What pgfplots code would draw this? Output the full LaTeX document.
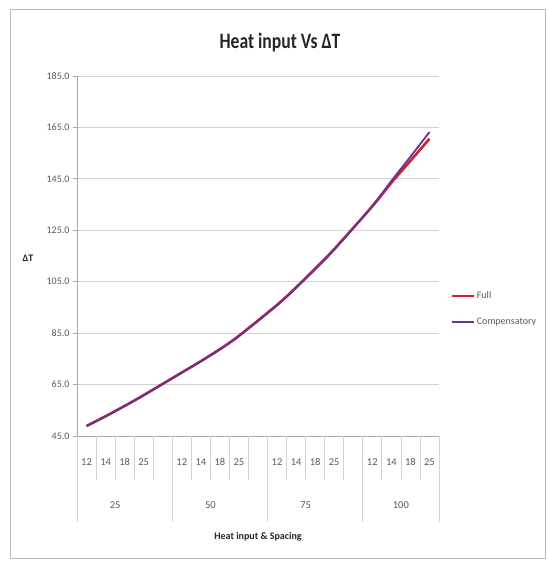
\documentclass[border=0pt]{standalone}
\usepackage{fontspec}
\setmainfont{Carlito}
\newfontfamily\titlefont[FakeStretch=0.8]{Carlito}
\usepackage{pgfplots}
\pgfplotsset{compat=1.18}
\definecolor{fullc}{RGB}{205,32,55}
\definecolor{compc}{RGB}{105,50,145}
\definecolor{gridc}{RGB}{210,210,210}
\definecolor{txtc}{RGB}{89,89,89}
\definecolor{framec}{RGB}{185,185,185}
\begin{document}
\begin{tikzpicture}[x=1pt,y=1pt]
\path (0,0) rectangle (547,561);
\draw[framec, line width=1pt] (10.5,2) rectangle (545,551);
\node[font=\titlefont\bfseries\fontsize{22}{24}\selectfont, anchor=base, text=black!85] at (280,512) {Heat input Vs ΔT};
\begin{axis}[
  at={(77pt,125pt)}, anchor=south west,
  width=362pt, height=360pt, scale only axis,
  xmin=-0.5, xmax=18.5, ymin=45, ymax=185,
  ytick={45,65,85,105,125,145,165,185},
  ymajorgrids, grid style={gridc, line width=0.8pt},
  axis lines*=left,
  axis line style={gridc!80!black, line width=0.8pt},
  tick align=outside,
  major tick length=4pt,
  ytick style={gridc!80!black, line width=0.8pt},
  xtick style={draw=none},
  xtick={0,1,2,3,5,6,7,8,10,11,12,13,15,16,17,18},
  xticklabels={12,14,18,25,12,14,18,25,12,14,18,25,12,14,18,25},
  xticklabel style={anchor=center, yshift=-22pt, font=\fontsize{10.5}{12}\selectfont, text=txtc},
  yticklabel style={font=\fontsize{10}{12}\selectfont, text=txtc},
  /pgf/number format/assume math mode=true,
  /pgf/number format/.cd, fixed, fixed zerofill, precision=1, /pgfplots/.cd,
  xlabel={Heat input \& Spacing},
  xlabel style={at={(axis description cs:0.5,0)}, anchor=center, yshift=-101pt, font=\bfseries\fontsize{10}{12}\selectfont, text=black!85},
  ylabel={ΔT},
  ylabel style={rotate=-90, at={(axis description cs:0,0.494)}, anchor=center, xshift=-49pt, font=\bfseries\fontsize{10}{12}\selectfont, text=black!85},
  legend style={at={(axis description cs:1,0.353)}, anchor=west, xshift=12pt, draw=none, fill=none, font=\fontsize{10}{12}\selectfont, text=txtc, row sep=15pt, inner sep=0pt, nodes={inner sep=1.5pt}},
  legend cell align=left,
  legend image code/.code={\draw[#1, line width=2.2pt] (0pt,0pt) -- (22pt,0pt);},
  clip=false
]
\addplot[fullc, line width=2.6pt, smooth] coordinates {
(0,48.9) (1,52.7) (2,56.7) (3,60.9) (5,69.7) (6,74.1) (7,78.8) (8,84.0)
(10,96.0) (11,102.8) (12,110.1) (13,117.7) (15,134.3) (16,143.5) (17,152.0) (18,160.6)};
\addlegendentry{Full}
\addplot[compc, line width=1.8pt, smooth] coordinates {
(0,48.8) (1,52.6) (2,56.6) (3,60.8) (5,69.6) (6,74.0) (7,78.6) (8,83.8)
(10,95.8) (11,102.6) (12,109.8) (13,117.4) (15,134.5) (16,144.2) (17,153.6) (18,163.2)};
\addlegendentry{Compensatory}
\draw[gridc, line width=0.8pt]
 (axis cs:0.5,45) -- ++(0pt,-44pt) (axis cs:1.5,45) -- ++(0pt,-44pt) (axis cs:2.5,45) -- ++(0pt,-44pt) (axis cs:3.5,45) -- ++(0pt,-44pt)
 (axis cs:5.5,45) -- ++(0pt,-44pt) (axis cs:6.5,45) -- ++(0pt,-44pt) (axis cs:7.5,45) -- ++(0pt,-44pt) (axis cs:8.5,45) -- ++(0pt,-44pt)
 (axis cs:10.5,45) -- ++(0pt,-44pt) (axis cs:11.5,45) -- ++(0pt,-44pt) (axis cs:12.5,45) -- ++(0pt,-44pt) (axis cs:13.5,45) -- ++(0pt,-44pt)
 (axis cs:15.5,45) -- ++(0pt,-44pt) (axis cs:16.5,45) -- ++(0pt,-44pt) (axis cs:17.5,45) -- ++(0pt,-44pt)
 (axis cs:-0.5,45) -- ++(0pt,-86pt) (axis cs:4.5,45) -- ++(0pt,-86pt) (axis cs:9.5,45) -- ++(0pt,-86pt)
 (axis cs:14.5,45) -- ++(0pt,-86pt) (axis cs:18.5,45) -- ++(0pt,-86pt);
\begin{scope}[every node/.style={font=\fontsize{10.5}{12}\selectfont, text=txtc}]
\node at (axis cs:1.5,45) [yshift=-69pt] {25};
\node at (axis cs:6.5,45) [yshift=-69pt] {50};
\node at (axis cs:11.5,45) [yshift=-69pt] {75};
\node at (axis cs:16.5,45) [yshift=-69pt] {100};
\end{scope}
\end{axis}
\end{tikzpicture}
\end{document}
